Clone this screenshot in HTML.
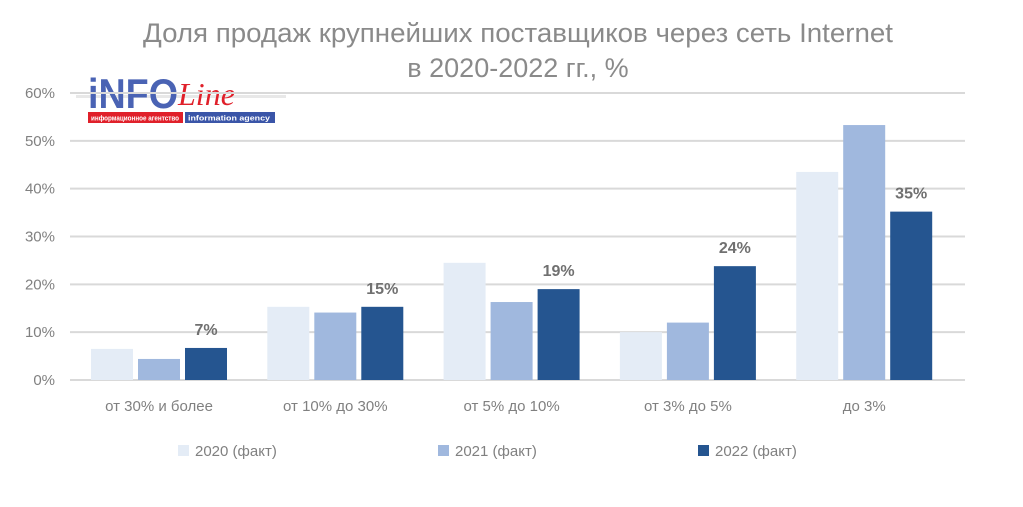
<!DOCTYPE html>
<html><head><meta charset="utf-8"><style>
body{margin:0;background:#fff;}
svg{display:block;font-family:"Liberation Sans",sans-serif;}
</style></head><body>
<svg width="1023" height="507" viewBox="0 0 1023 507">
<text x="518" y="42" text-anchor="middle" font-size="27" fill="#8a8a8a" textLength="750" lengthAdjust="spacingAndGlyphs">Доля продаж крупнейших поставщиков через сеть Internet</text>
<text x="518" y="77" text-anchor="middle" font-size="27" fill="#8a8a8a">в 2020-2022 гг., %</text>
<g>
<rect x="76" y="95" width="210" height="3" fill="#e8e8e8"/>
<text x="88" y="108" font-size="42" font-weight="bold" fill="#4a63b4" textLength="90" lengthAdjust="spacingAndGlyphs">iNFO</text>
<text x="178" y="105" font-size="32" font-style="italic" fill="#e0202a" font-family="Liberation Serif,serif">Line</text>
<rect x="88" y="112" width="95" height="11" fill="#e0202a"/>
<rect x="185" y="112" width="90" height="11" fill="#3a55a8"/>
<text x="91" y="120.5" font-size="7" fill="#fff" font-weight="bold" textLength="88" lengthAdjust="spacingAndGlyphs">информационное агентство</text>
<text x="188" y="120.5" font-size="7" fill="#fff" font-weight="bold" textLength="82" lengthAdjust="spacingAndGlyphs">information agency</text>
</g>
<g id="grid"></g><g id="bars"></g>
<g>
<rect x="178" y="445" width="11" height="11" fill="#e4ecf6"/><text x="195" y="456" font-size="15" fill="#808080">2020 (факт)</text>
<rect x="438" y="445" width="11" height="11" fill="#a0b8de"/><text x="455" y="456" font-size="15" fill="#808080">2021 (факт)</text>
<rect x="698" y="445" width="11" height="11" fill="#255590"/><text x="715" y="456" font-size="15" fill="#808080">2022 (факт)</text>
</g>
</svg>
<script>
const categories=["от 30% и более","от 10% до 30%","от 5% до 10%","от 3% до 5%","до 3%"];
const s2020=[6.5,15.3,24.5,10,43.5];
const s2021=[4.4,14.1,16.3,12,53.3];
const s2022=[6.7,15.3,19,23.8,35.2];
const labels2022=["7%","15%","19%","24%","35%"];
const ticks=[0,10,20,30,40,50,60];
const NS="http://www.w3.org/2000/svg";
const y=v=>380-v*(287/60);
const cx=i=>159+i*176.3;
function el(t,a,p){const e=document.createElementNS(NS,t);for(const k in a)e.setAttribute(k,a[k]);p.appendChild(e);return e;}
const g=document.getElementById('grid'),b=document.getElementById('bars');
ticks.forEach(t=>{
 const l=el('line',{x1:70,x2:965,y1:y(t),y2:y(t),stroke:'#d9d9d9','stroke-width':2},g);
 
 
 const tx=el('text',{x:55,y:y(t)+5,'text-anchor':'end','font-size':15,fill:'#808080'},g);tx.textContent=t+'%';
 
 
});
const series=[[s2020,'#e4ecf6'],[s2021,'#a0b8de'],[s2022,'#255590']];
categories.forEach((c,i)=>{
 series.forEach((s,j)=>{
  const x=cx(i)-68+j*47;
  const r=el('rect',{x:x,y:y(s[0][i]),width:42,height:380-y(s[0][i]),fill:s[1]},b);
  
  
 });
 const lt=el('text',{x:cx(i)+47,y:y(s2022[i])-13,'text-anchor':'middle','font-size':16,'font-weight':'bold',fill:'#707070'},b);lt.textContent=labels2022[i];
 
 
 const ct=el('text',{x:cx(i),y:411,'text-anchor':'middle','font-size':15,fill:'#808080'},b);ct.textContent=c;
 
 
});
</script>
</body></html>
